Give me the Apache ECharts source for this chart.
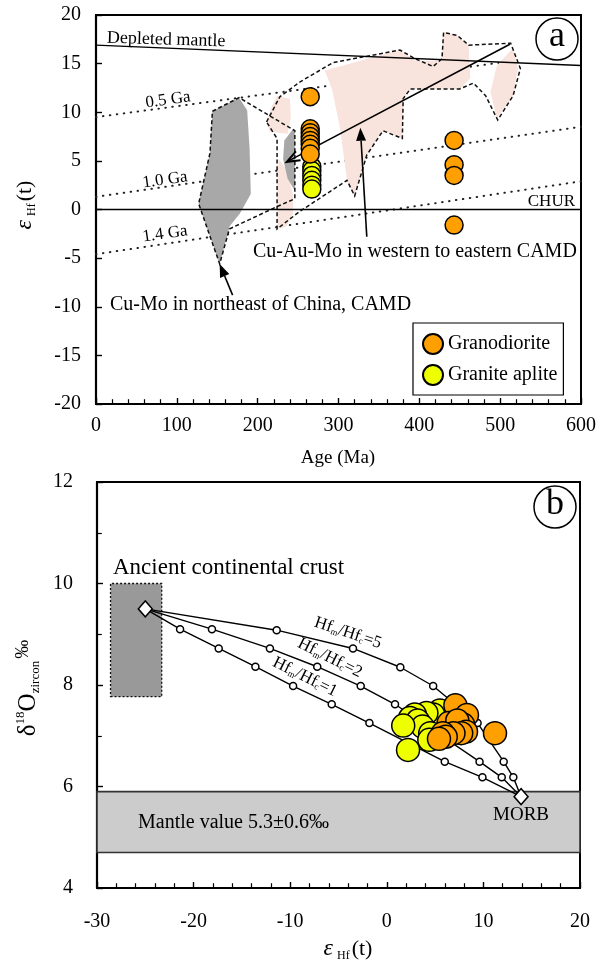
<!DOCTYPE html>
<html>
<head>
<meta charset="utf-8">
<script src="https://cdn.jsdelivr.net/npm/echarts@6/dist/echarts.min.js"></script>
<style>
  html, body { margin: 0; padding: 0; background: #fff; }
  #chart { width: 599px; height: 960px; }
</style>
</head>
<body>
<div id="chart"></div>
<script>
const FONT = '"Liberation Serif","Times New Roman",serif';
const ORANGE = '#FFA000';
const YELLOW = '#EEFF00';

// ---------- Panel a: εHf(t) versus age (Ma) ----------
const ageTicks = [0, 100, 200, 300, 400, 500, 600];
const epsTicksA = [-20, -15, -10, -5, 0, 5, 10, 15, 20];

const granodioriteA = [[265, 11.6], [265, 8.3], [265, 7.9], [265, 7.5], [265, 7.1], [265, 6.7], [265, 6.3], [265, 5.7],
                       [443, 7.1], [443, 4.6], [443, 3.5], [443, -1.6]];
const graniteApliteA = [[267, 4.4], [267, 4.0], [267, 3.5], [267, 3.0], [267, 2.5], [267, 2.1]];

// reference evolution lines
const depletedMantle = [[0, 16.9], [600, 14.8]];
const chur = [[0, 0], [600, 0]];
const crust05Ga = [[0, 9.5], [500, 15.1]];
const crust10Ga = [[0, 1.3], [600, 8.5]];
const crust14Ga = [[0, -4.6], [600, 2.9]];

// Cu-Mo deposits, northeast China (grey)
const grayFieldWest = [[144, 10.1], [177, 11.5], [187, 10.2], [190, 6.3], [191.5, 1.6], [178, -0.4], [165.5, -1.7], [153, -5.6], [127, 0.6], [141, 5.8]];
const grayFieldEast = [[244, 8.3], [233, 7.1], [231.5, 5.2], [237, 3.2], [246, 1.9], [246, 8.0]];
const grayOutline = [[144, 10.1], [177, 11.5], [246, 8.1], [246, 1.1], [224, 0.3], [165, -2.0], [153, -5.6], [127, 0.6], [141, 5.8]];

// Cu-Au-Mo deposits, western to eastern CAMD (pink)
const pinkLobeUpper = [[224, 11.7], [240, 11.4], [241, 9.4], [237, 7.8], [215, 8.0], [211, 9.1], [217.5, 10.6]];
const pinkLobeLower = [[226, 5.2], [235, 4.2], [243.6, 1.6], [243.6, -0.4], [236, -1.7], [225, -2.0], [224, 1.6], [225, 4.2]];
const pinkMain = [[283, 14.3], [376, 16.4], [395, 15.3], [428, 15.3], [430, 18.3], [447, 17.9], [461, 16.9], [463, 13.5], [450, 12.4],
                  [389, 12.4], [380, 11.4], [379, 7.3], [355, 8.1], [348, 7.3], [335, 5.6], [320, 1.4], [310.5, 3.0], [302, 8.3], [292, 12.4]];
const pinkRight = [[496, 14.8], [516, 16.6], [522, 14.5], [516, 11.7], [496, 9.4], [488, 12.1]];
const pinkOutline = [[211, 9.0], [227.5, 11.6], [252, 13.1], [293, 15.1], [376, 16.4], [395, 15.5], [417, 14.7], [428, 15.5], [430, 18.2],
                     [447, 17.9], [461, 16.9], [513, 17.1], [525, 14.5], [516, 11.7], [497, 9.2], [482, 11.7], [467, 13.0], [450, 12.4],
                     [389, 12.4], [380, 11.4], [379, 7.3], [355, 8.1], [335, 5.6], [320, 1.4], [310.5, 3.0], [252, -0.2], [224, -2.0], [224, 7.3]];

const arrowTrend = [[512, 17.0], [236, 4.9]];
const arrowCuAuMo = [[335, -2.8], [327, 8.4]];
const arrowCuMo = [[169, -8.8], [153, -5.6]];

// ---------- Panel b: δ18O zircon versus εHf(t) ----------
const epsTicksB = [-30, -20, -10, 0, 10, 20];
const d18OTicks = [4, 6, 8, 10, 12];

const granodioriteB = [[7.1, 7.6], [8.3, 7.41], [7.9, 7.22], [6.4, 7.25], [7.3, 7.3], [11.2, 7.05], [8.2, 7.08], [7.7, 7.05],
                       [6.9, 7.05], [5.8, 7.05], [6.1, 6.98], [5.4, 6.94]];
const graniteApliteB = [[5.5, 7.5], [4.8, 7.42], [4.1, 7.45], [2.9, 7.42], [2.4, 7.35], [3.2, 7.3], [3.7, 7.18], [4.5, 7.05],
                        [4.4, 6.92], [1.7, 7.2], [2.2, 6.72]];

const crustEnd = [-25, 9.5];
const morbEnd = [13.9, 5.8];
const mixNodes5 = [[-11.4, 9.08], [-3.5, 8.72], [1.4, 8.35], [4.8, 7.98], [9.4, 7.25], [12.1, 6.49], [13.1, 6.18]];
const mixNodes2 = [[-18.1, 9.10], [-12.1, 8.72], [-7.2, 8.36], [-2.7, 7.98], [0.85, 7.62], [9.6, 6.49], [11.9, 6.18]];
const mixNodes1 = [[-21.4, 9.10], [-17.4, 8.72], [-13.6, 8.36], [-9.7, 7.98], [-5.7, 7.62], [-1.8, 7.25], [6.0, 6.49], [9.9, 6.18]];

const mantleBandY = [4.7, 5.9];
const crustBoxX = [-28.6, -23.3];
const crustBoxY = [7.77, 10.0];

// ---------- helpers ----------
function axisCommon(ticks, minorSplit, margin, tickLen) {
  return {
    type: 'value',
    min: ticks[0],
    max: ticks[ticks.length - 1],
    interval: ticks[1] - ticks[0],
    axisLine: { onZero: false, lineStyle: { color: '#000', width: 2.2 } },
    axisTick: { inside: true, length: tickLen, lineStyle: { color: '#000', width: 1.4 } },
    minorTick: { show: minorSplit > 0, splitNumber: minorSplit || 5, length: tickLen * 0.8, lineStyle: { color: '#000', width: 1.2 } },
    splitLine: { show: false },
    axisLabel: { color: '#000', fontSize: 20, fontFamily: FONT, margin: margin }
  };
}

function polygon(points, idx, style, z) {
  return {
    type: 'custom', xAxisIndex: idx, yAxisIndex: idx, z: z, silent: true,
    data: [points[0]],
    renderItem: (params, api) => ({
      type: 'polygon',
      shape: { points: points.map(p => api.coord(p)) },
      style: style
    })
  };
}

function box(xr, yr, idx, style, z) {
  return polygon([[xr[0], yr[0]], [xr[1], yr[0]], [xr[1], yr[1]], [xr[0], yr[1]]], idx, style, z);
}

function arrow(pts, filled, z) {
  return {
    type: 'custom', xAxisIndex: 0, yAxisIndex: 0, z: z, silent: true,
    data: [pts[0]],
    renderItem: (params, api) => {
      const a = api.coord(pts[0]), b = api.coord(pts[1]);
      const dx = b[0] - a[0], dy = b[1] - a[1], L = Math.hypot(dx, dy);
      const ux = dx / L, uy = dy / L, hl = 13, hw = 5;
      const base = [b[0] - ux * hl, b[1] - uy * hl];
      const l = [base[0] - uy * hw, base[1] + ux * hw];
      const r = [base[0] + uy * hw, base[1] - ux * hw];
      const end = filled ? base : b;
      const children = [{ type: 'line', shape: { x1: a[0], y1: a[1], x2: end[0], y2: end[1] }, style: { stroke: '#000', lineWidth: 1.6 } }];
      if (filled) children.push({ type: 'polygon', shape: { points: [b, l, r] }, style: { fill: '#000' } });
      else children.push({ type: 'polyline', shape: { points: [l, b, r] }, style: { stroke: '#000', lineWidth: 2, fill: null } });
      return { type: 'group', children: children };
    }
  };
}

function refLine(data, idx, style, z) {
  return { type: 'line', xAxisIndex: idx, yAxisIndex: idx, data: data, symbol: 'none', silent: true, z: z,
           lineStyle: style, animation: false };
}

function txt(x, y, text, size, extra) {
  return Object.assign({
    type: 'text', x: x, y: y, z: 100, silent: true,
    style: Object.assign({ text: text, fontFamily: FONT, fontSize: size, fill: '#000', align: 'left', verticalAlign: 'middle' }, (extra && extra.style) || {})
  }, extra && extra.rotation !== undefined ? { rotation: extra.rotation } : {});
}

const dotted = { color: '#222', width: 2, type: [0.5, 6.5], cap: 'round' };
const dashedOutline = { fill: null, stroke: '#111', lineWidth: 1.5, lineDash: [4, 2.6] };
const PINK = '#F9E3DD';
const GREY = '#A8A8A8';

const hfRich = {
  t: { fontFamily: FONT, fontSize: 17, fill: '#000' },
  s: { fontFamily: FONT, fontSize: 9, fill: '#000', verticalAlign: 'bottom', lineHeight: 9, padding: [6, 0, 0, 0] }
};

const option = {
  animation: false,
  backgroundColor: '#fff',
  grid: [
    { left: 96, top: 15, width: 485, height: 389, show: true, borderColor: '#000', borderWidth: 2, backgroundColor: 'transparent' },
    { left: 97, top: 482, width: 483, height: 406, show: true, borderColor: '#000', borderWidth: 2, backgroundColor: 'transparent' }
  ],
  xAxis: [
    Object.assign(axisCommon(ageTicks, 5, 12, 6), { gridIndex: 0 }),
    Object.assign(axisCommon(epsTicksB, 5, 24, 6), { gridIndex: 1 })
  ],
  yAxis: [
    Object.assign(axisCommon(epsTicksA, 0, 15, 6), { gridIndex: 0 }),
    Object.assign(axisCommon(d18OTicks, 2, 24, 6), { gridIndex: 1 })
  ],
  legend: {
    data: [{ name: 'Granodiorite', icon: 'circle' }, { name: 'Granite aplite', icon: 'circle' }],
    orient: 'vertical', left: 413, top: 323,
    padding: [10, 6, 9, 9], itemGap: 9, itemWidth: 20, itemHeight: 20, itemTextGap: 8,
    borderColor: '#000', borderWidth: 1.2, backgroundColor: '#fff', borderRadius: 0,
    textStyle: { fontFamily: FONT, fontSize: 20, color: '#000' },
    selectedMode: false
  },
  series: [
    // panel a
    refLine(crust05Ga, 0, dotted, 1),
    refLine(crust10Ga, 0, dotted, 1),
    refLine(crust14Ga, 0, dotted, 1),
    polygon(pinkMain, 0, { fill: PINK }, 2),
    polygon(pinkRight, 0, { fill: PINK }, 2),
    polygon(pinkLobeUpper, 0, { fill: PINK }, 2),
    polygon(pinkLobeLower, 0, { fill: PINK }, 2),
    polygon(grayFieldWest, 0, { fill: GREY }, 2),
    polygon(grayFieldEast, 0, { fill: GREY }, 2),
    polygon(pinkOutline, 0, dashedOutline, 3),
    polygon(grayOutline, 0, dashedOutline, 3),
    refLine(depletedMantle, 0, { color: '#000', width: 1.4 }, 4),
    refLine(chur, 0, { color: '#000', width: 1.6 }, 4),
    arrow(arrowTrend, false, 5),
    arrow(arrowCuAuMo, true, 5),
    arrow(arrowCuMo, true, 5),
    { name: 'Granite aplite', type: 'scatter', xAxisIndex: 0, yAxisIndex: 0, z: 6, data: graniteApliteA, symbolSize: 18,
      itemStyle: { color: YELLOW, borderColor: '#000', borderWidth: 1.5, opacity: 1 } },
    { name: 'Granodiorite', type: 'scatter', xAxisIndex: 0, yAxisIndex: 0, z: 6, data: granodioriteA, symbolSize: 18,
      itemStyle: { color: ORANGE, borderColor: '#000', borderWidth: 1.5, opacity: 1 } },

    // panel b
    box([epsTicksB[0], epsTicksB[epsTicksB.length - 1]], mantleBandY, 1, { fill: '#CCCCCC', stroke: '#333', lineWidth: 1.6 }, 1),
    box(crustBoxX, crustBoxY, 1, { fill: '#999999', stroke: '#111', lineWidth: 1.3, lineDash: [2, 2] }, 1),
    refLine([crustEnd].concat(mixNodes5, [morbEnd]), 1, { color: '#000', width: 1.4 }, 3),
    refLine([crustEnd].concat(mixNodes2, [morbEnd]), 1, { color: '#000', width: 1.4 }, 3),
    refLine([crustEnd].concat(mixNodes1, [morbEnd]), 1, { color: '#000', width: 1.4 }, 3),
    { type: 'scatter', xAxisIndex: 1, yAxisIndex: 1, z: 4, silent: true, symbol: 'circle', symbolSize: 7,
      data: mixNodes5.concat(mixNodes2, mixNodes1),
      itemStyle: { color: '#fff', borderColor: '#000', borderWidth: 1.5, opacity: 1 } },
    { type: 'scatter', xAxisIndex: 1, yAxisIndex: 1, z: 5, silent: true, symbol: 'diamond', symbolSize: [14, 16],
      data: [crustEnd, morbEnd],
      itemStyle: { color: '#fff', borderColor: '#000', borderWidth: 1.5, opacity: 1 } },
    { name: 'Granite aplite', type: 'scatter', xAxisIndex: 1, yAxisIndex: 1, z: 6, data: graniteApliteB, symbolSize: 23,
      itemStyle: { color: YELLOW, borderColor: '#000', borderWidth: 1.5, opacity: 1 } },
    { name: 'Granodiorite', type: 'scatter', xAxisIndex: 1, yAxisIndex: 1, z: 6, data: granodioriteB, symbolSize: 23,
      itemStyle: { color: ORANGE, borderColor: '#000', borderWidth: 1.5, opacity: 1 } }
  ],
  graphic: [
    // panel a annotations
    txt(107, 38, 'Depleted mantle', 18, { rotation: -0.03 }),
    txt(168, 100, '0.5 Ga', 17, { rotation: 0.14, style: { align: 'center' } }),
    txt(165, 180, '1.0 Ga', 17, { rotation: 0.14, style: { align: 'center' } }),
    txt(165, 234, '1.4 Ga', 17, { rotation: 0.14, style: { align: 'center' } }),
    txt(575, 202, 'CHUR', 17, { style: { align: 'right' } }),
    txt(253, 252, 'Cu-Au-Mo in western to eastern CAMD', 20),
    txt(110, 305, 'Cu-Mo in northeast of China, CAMD', 20),
    { type: 'circle', z: 100, silent: true, shape: { cx: 557, cy: 39, r: 21 }, style: { fill: '#fff', stroke: '#000', lineWidth: 1.5 } },
    txt(557, 37, 'a', 36, { style: { align: 'center' } }),
    txt(338, 458, 'Age (Ma)', 19, { style: { align: 'center' } }),
    {
      type: 'text', x: 25, y: 205, rotation: Math.PI / 2, z: 100, silent: true,
      style: {
        text: '{e|ε}{h|Hf}{t|(t)}', align: 'center', verticalAlign: 'middle',
        rich: {
          e: { fontFamily: FONT, fontSize: 24, fontStyle: 'italic', fill: '#000', lineHeight: 26 },
          h: { fontFamily: FONT, fontSize: 12, fill: '#000', verticalAlign: 'bottom', lineHeight: 12, padding: [0, 2, 0, 4] },
          t: { fontFamily: FONT, fontSize: 22, fill: '#000', lineHeight: 26 }
        }
      }
    },

    // panel b annotations
    txt(113, 568, 'Ancient continental crust', 23),
    txt(138, 823, 'Mantle value 5.3±0.6‰', 20),
    txt(521, 815, 'MORB', 19, { style: { align: 'center' } }),
    { type: 'circle', z: 100, silent: true, shape: { cx: 555, cy: 507, r: 21 }, style: { fill: '#fff', stroke: '#000', lineWidth: 1.5 } },
    txt(555, 505, 'b', 36, { style: { align: 'center' } }),
    { type: 'text', x: 348, y: 633, rotation: -0.32, z: 100, silent: true,
      style: { text: '{t|Hf}{s|m}{t|/Hf}{s|c}{t|=5}', align: 'center', verticalAlign: 'middle', rich: hfRich } },
    { type: 'text', x: 330, y: 658, rotation: -0.46, z: 100, silent: true,
      style: { text: '{t|Hf}{s|m}{t|/Hf}{s|c}{t|=2}', align: 'center', verticalAlign: 'middle', rich: hfRich } },
    { type: 'text', x: 305, y: 677, rotation: -0.46, z: 100, silent: true,
      style: { text: '{t|Hf}{s|m}{t|/Hf}{s|c}{t|=1}', align: 'center', verticalAlign: 'middle', rich: hfRich } },
    {
      type: 'text', x: 348, y: 949, z: 100, silent: true,
      style: {
        text: '{e|ε}{h|Hf}{t|(t)}', align: 'center', verticalAlign: 'middle',
        rich: {
          e: { fontFamily: FONT, fontSize: 24, fontStyle: 'italic', fill: '#000', lineHeight: 26 },
          h: { fontFamily: FONT, fontSize: 12, fill: '#000', verticalAlign: 'bottom', lineHeight: 12, padding: [0, 2, 0, 4] },
          t: { fontFamily: FONT, fontSize: 22, fill: '#000', lineHeight: 26 }
        }
      }
    },
    {
      type: 'text', x: 28, y: 688, rotation: Math.PI / 2, z: 100, silent: true,
      style: {
        text: '{a|δ}{sup|18}{a|O}{sub|zircon}{pm|‰}', align: 'center', verticalAlign: 'middle',
        rich: {
          a: { fontFamily: FONT, fontSize: 25, fill: '#000', lineHeight: 28 },
          sup: { fontFamily: FONT, fontSize: 13, fill: '#000', verticalAlign: 'top', lineHeight: 13 },
          sub: { fontFamily: FONT, fontSize: 13, fill: '#000', verticalAlign: 'bottom', lineHeight: 13 },
          pm: { fontFamily: FONT, fontSize: 19, fill: '#000', verticalAlign: 'top', lineHeight: 19, padding: [0, 0, 0, 2] }
        }
      }
    }
  ]
};

const chart = echarts.init(document.getElementById('chart'), null, { renderer: 'canvas' });
chart.setOption(option);
</script>
</body>
</html>
